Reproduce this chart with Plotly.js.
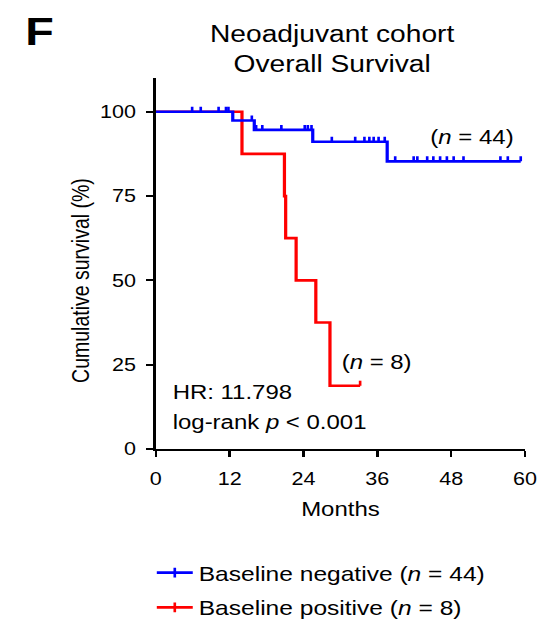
<!DOCTYPE html>
<html>
<head>
<meta charset="utf-8">
<script src="https://cdn.plot.ly/plotly-3.0.1.min.js"></script>
<style>
html,body{margin:0;padding:0;background:#fff;overflow:hidden;}
#wrap{width:549px;height:623px;overflow:hidden;}
#plot{width:458px;height:623px;transform:scaleX(1.1987);transform-origin:0 0;}
</style>
</head>
<body>
<div id="wrap"><div id="plot"></div></div>
<script>
// Kaplan-Meier step data (months, cumulative survival %)
const blueTimes = [0, 12.5, 16.0, 25.5, 37.6, 59.3];
const blueSurv  = [100, 97.4, 94.6, 91.1, 85.3, 85.3];
const blueCensorTimes = [5.9, 7.3, 10.2, 11.4, 11.8,
                         15.6,
                         16.3, 17.3, 20.4, 24.2, 24.7, 25.3,
                         28.6, 32.4, 33.9, 34.7, 35.4, 36.2, 37.2,
                         38.9, 41.9, 42.5, 44.1, 45.1, 46.2, 47.3, 48.4, 50.0, 56.0, 57.2, 59.3];
const blueCensorSurv  = [100, 100, 100, 100, 100,
                         97.4,
                         94.6, 94.6, 94.6, 94.6, 94.6, 94.6,
                         91.1, 91.1, 91.1, 91.1, 91.1, 91.1, 91.1,
                         85.3, 85.3, 85.3, 85.3, 85.3, 85.3, 85.3, 85.3, 85.3, 85.3, 85.3, 85.3];

const redTimes = [0, 14.0, 20.9, 21.1, 22.8, 26.0, 28.3, 33.2];
const redSurv  = [100, 87.5, 75, 62.5, 50, 37.5, 18.75, 18.75];
const redCensorTimes = [33.2];
const redCensorSurv  = [18.75];

const xTicks = [0, 12, 24, 36, 48, 60];
const yTicks = [0, 25, 50, 75, 100];

const seriesNames = ['Baseline negative (<i>n</i> = 44)', 'Baseline positive (<i>n</i> = 8)'];
const groupLabels = ['(<i>n</i> = 44)', '(<i>n</i> = 8)'];
const statLabels = ['HR: 11.798', 'log-rank <i>p</i> &lt; 0.001'];

const BLUE = '#0000FF', RED = '#FF0000';
const FONT = 'Liberation Sans, Arial, Helvetica, sans-serif';

function censorTrace(x, y, color) {
  return {
    x: x, y: y, type: 'scatter', mode: 'markers',
    marker: {size: 0.1, color: 'rgba(0,0,0,0)'},
    error_y: {type: 'constant', value: 1.5, valueminus: 0, symmetric: false,
              width: 0, thickness: 2.2, color: color},
    showlegend: false, hoverinfo: 'skip', cliponaxis: false
  };
}

const traces = [
  {x: redTimes, y: redSurv, type: 'scatter', mode: 'lines',
   line: {shape: 'hv', color: RED, width: 2.7}, showlegend: false},
  censorTrace(redCensorTimes, redCensorSurv, RED),
  {x: blueTimes, y: blueSurv, type: 'scatter', mode: 'lines',
   line: {shape: 'hv', color: BLUE, width: 2.7}, showlegend: false},
  censorTrace(blueCensorTimes, blueCensorSurv, BLUE),
  // legend entries
  {x: [null], y: [null], type: 'scatter', mode: 'lines+markers', name: seriesNames[0], legendgroup: 'neg',
   line: {color: BLUE, width: 2.7},
   marker: {symbol: 'line-ns-open', size: 7, line: {color: BLUE, width: 2.2}}},
  {x: [null], y: [null], type: 'scatter', mode: 'lines+markers', name: seriesNames[1], legendgroup: 'pos',
   line: {color: RED, width: 2.7},
   marker: {symbol: 'line-ns-open', size: 7, line: {color: RED, width: 2.2}}}
];

const layout = {
  width: 458, height: 623,
  margin: {l: 130, r: 20, t: 78, b: 174, pad: 0, autoexpand: false},
  paper_bgcolor: '#fff', plot_bgcolor: '#fff',
  font: {family: FONT, color: '#000', size: 18},
  title: {text: 'Neoadjuvant cohort<br>Overall Survival', font: {size: 23.5, family: FONT, color: '#000'},
          x: 0.605, xref: 'container', xanchor: 'center', y: 0.933, yref: 'container', yanchor: 'middle'},
  xaxis: {range: [0, 60], tickvals: xTicks, ticks: 'outside', ticklen: 6, tickwidth: 2, tickcolor: '#000',
          showline: true, linecolor: '#000', linewidth: 2, showgrid: false, zeroline: false,
          ticklabelstandoff: 6,
          tickfont: {size: 18}, title: {text: 'Months', font: {size: 20}, standoff: 14}, fixedrange: true},
  yaxis: {range: [0, 110], tickvals: yTicks, ticks: 'outside', ticklen: 6, tickwidth: 2, tickcolor: '#000',
          showline: true, linecolor: '#000', linewidth: 2, showgrid: false, zeroline: false,
          ticklabelstandoff: 5,
          tickfont: {size: 18}, fixedrange: true},
  showlegend: true,
  legend: {x: -0.0136, xanchor: 'left', y: -0.28, yanchor: 'top',
           orientation: 'v', font: {size: 20.5}, bgcolor: 'rgba(0,0,0,0)', itemwidth: 30,
           traceorder: 'grouped', tracegroupgap: 5},
  annotations: [
    {text: '<b>F</b>', xref: 'paper', yref: 'paper', x: -0.362, y: 1.19, xanchor: 'left', yanchor: 'top',
     showarrow: false, font: {size: 39, family: FONT}},
    {text: 'Cumulative survival (%)', xref: 'paper', yref: 'y', x: -0.2026, y: 50, textangle: -90,
     xanchor: 'center', yanchor: 'middle', showarrow: false, font: {size: 19.5}},
    {text: groupLabels[0], xref: 'x', yref: 'y', x: 51.4, y: 92.5, xanchor: 'center', yanchor: 'middle',
     showarrow: false, font: {size: 20}},
    {text: groupLabels[1], xref: 'x', yref: 'y', x: 35.8, y: 25.9, xanchor: 'center', yanchor: 'middle',
     showarrow: false, font: {size: 20}},
    {text: statLabels[0], xref: 'x', yref: 'y', x: 2.4, y: 16.8, xanchor: 'left', yanchor: 'middle',
     showarrow: false, font: {size: 20}},
    {text: statLabels[1], xref: 'x', yref: 'y', x: 2.4, y: 7.9, xanchor: 'left', yanchor: 'middle',
     showarrow: false, font: {size: 20}}
  ]
};

Plotly.newPlot('plot', traces, layout, {displayModeBar: false, staticPlot: true});
</script>
</body>
</html>
